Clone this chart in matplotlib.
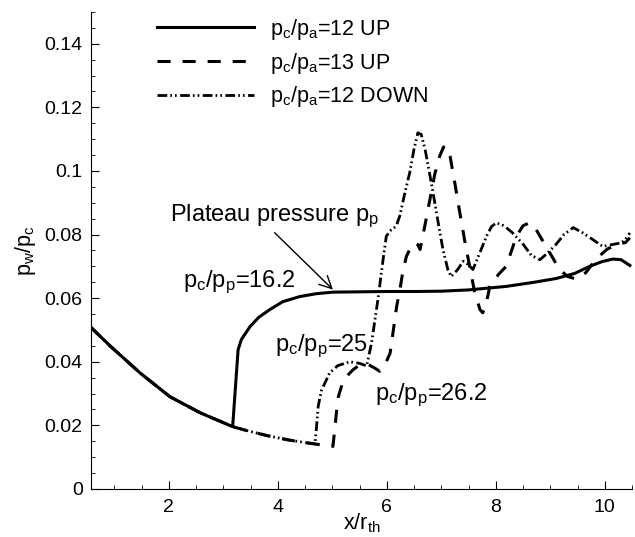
import numpy as np
import matplotlib
matplotlib.use("Agg")
import matplotlib.pyplot as plt
from matplotlib.ticker import MultipleLocator, FuncFormatter

plt.rcParams['font.family'] = 'Liberation Sans'
plt.rcParams['mathtext.fontset'] = 'custom'
plt.rcParams['mathtext.rm'] = 'Liberation Sans'
plt.rcParams['mathtext.it'] = 'Liberation Sans'

# common upstream part (all three curves)
x_common = [0.57, 0.92, 1.47, 2.02, 2.57, 3.17]
y_common = [0.0508, 0.045, 0.0365, 0.029, 0.024, 0.0196]

# pc/pa = 12 UP
x_up12 = [3.27, 3.33, 3.49, 3.65, 3.85, 4.09, 4.4, 4.7, 5.01, 5.5, 6.0, 6.5, 7.0,
          7.5, 8.19, 8.7, 9.11, 9.45, 9.72, 9.95, 10.15, 10.3, 10.46]
y_up12 = [0.0438, 0.047, 0.0511, 0.054, 0.0564, 0.0589, 0.0605, 0.0614, 0.0619, 0.062,
          0.0621, 0.0621, 0.0622, 0.0626, 0.0637, 0.065, 0.0662, 0.0678, 0.070, 0.0715,
          0.0723, 0.0721, 0.0703]

# pc/pa = 13 UP
x_up13 = [3.4, 3.8, 4.2, 4.5, 4.7, 4.85, 5.01, 5.05, 5.08, 5.11, 5.18, 5.26, 5.38, 5.5,
          5.65, 5.78, 5.87, 5.95, 6.06, 6.12, 6.18, 6.24, 6.3, 6.36, 6.44, 6.51, 6.57,
          6.61, 6.7, 6.79, 6.88, 6.97, 7.04, 7.09, 7.16, 7.25, 7.34, 7.43, 7.52, 7.61,
          7.71, 7.76, 7.82, 7.89, 8.05, 8.19, 8.28, 8.38, 8.5, 8.62, 8.72, 8.81, 8.99,
          9.17, 9.32, 9.48, 9.65, 9.85, 10.05, 10.25, 10.38, 10.46]
y_up13 = [0.0185, 0.0168, 0.0154, 0.0146, 0.0141, 0.0137, 0.0134, 0.0196, 0.025, 0.029,
          0.033, 0.0354, 0.0375, 0.039, 0.0392, 0.038, 0.037, 0.0385, 0.0427, 0.050,
          0.0574, 0.0627, 0.069, 0.0732, 0.076, 0.0774, 0.0768, 0.0753, 0.083, 0.091,
          0.099, 0.1047, 0.1075, 0.1078, 0.1047, 0.096, 0.0868, 0.078, 0.070, 0.062,
          0.0564, 0.0554, 0.058, 0.0637, 0.0675, 0.070, 0.0745, 0.0795, 0.0828, 0.0837,
          0.0822, 0.0795, 0.0743, 0.069, 0.0668, 0.066, 0.068, 0.0725, 0.0755, 0.077,
          0.0775, 0.079]

# pc/pa = 12 DOWN
x_down12 = [3.4, 3.8, 4.2, 4.5, 4.68, 4.71, 4.74, 4.8, 4.95, 5.1, 5.32, 5.5, 5.63, 5.72,
            5.84, 5.93, 5.99, 6.08, 6.17, 6.24, 6.33, 6.42, 6.5, 6.57, 6.63, 6.7, 6.84,
            6.94, 7.03, 7.12, 7.18, 7.3, 7.4, 7.5, 7.58, 7.7, 7.83, 7.92, 8.01, 8.15,
            8.31, 8.5, 8.65, 8.81, 8.95, 9.1, 9.25, 9.42, 9.6, 9.8, 9.96, 10.15, 10.3,
            10.38, 10.46]
y_down12 = [0.0185, 0.0168, 0.0154, 0.0146, 0.0142, 0.0196, 0.026, 0.031, 0.0365, 0.0388,
            0.040, 0.0395, 0.0387, 0.046, 0.060, 0.072, 0.0795, 0.0815, 0.0826, 0.086,
            0.093, 0.0995, 0.107, 0.112, 0.1115, 0.107, 0.094, 0.084, 0.0753, 0.069,
            0.0668, 0.069, 0.0716, 0.0705, 0.069, 0.074, 0.0795, 0.0825, 0.0837, 0.0828,
            0.0805, 0.077, 0.0735, 0.0721, 0.0742, 0.0768, 0.080, 0.0822, 0.0805, 0.0782,
            0.0763, 0.0769, 0.0774, 0.0785, 0.0805]

labels = [r'$\mathregular{p_c/p_a}$=12 UP', r'$\mathregular{p_c/p_a}$=13 UP',
          r'$\mathregular{p_c/p_a}$=12 DOWN']

fig = plt.figure(figsize=(6.35, 5.37), dpi=100)
ax = fig.add_axes([0.1433, 0.0894, 0.852, 0.8883])

ax.plot(x_common + x_up13, y_common + y_up13, color='black', lw=2.2,
        dashes=(4.3, 3.9), label=labels[1])
ax.plot(x_common + x_down12, y_common + y_down12, color='black', lw=2.0,
        dashes=(3.5, 1.1, 0.6, 1.1, 0.6, 1.25), label=labels[2])
ax.plot(x_common + x_up12, y_common + y_up12, color='black', lw=2.2, label=labels[0])

handles, labs = ax.get_legend_handles_labels()
order = [2, 0, 1]
ax.legend([handles[i] for i in order], [labs[i] for i in order], loc='upper left',
          bbox_to_anchor=(157 / 635, 1 - 17 / 537), bbox_transform=fig.transFigure,
          frameon=False, fontsize=15.5, handlelength=4.5, handletextpad=0.75,
          borderpad=0, borderaxespad=0, labelspacing=0.4)

ax.set_xlim(0.57, 10.5)
ax.set_ylim(0, 0.15)
ax.spines['top'].set_visible(False)
ax.spines['right'].set_visible(False)
ax.xaxis.set_major_locator(MultipleLocator(2))
ax.xaxis.set_minor_locator(MultipleLocator(0.5))
ax.yaxis.set_major_locator(MultipleLocator(0.02))
ax.yaxis.set_minor_locator(MultipleLocator(0.005))
ax.yaxis.set_major_formatter(FuncFormatter(lambda v, p: '%g' % round(v, 4)))
ax.tick_params(which='both', direction='in', labelsize=14)
ax.tick_params(axis='x', which='major', length=6, pad=7)
ax.tick_params(axis='y', which='major', length=6, pad=6)
ax.tick_params(which='minor', length=3)

ax.set_xlabel(r'$\mathregular{x/r_{th}}$', fontsize=15.5, labelpad=-3)
ax.set_ylabel(r'$\mathregular{p_w/p_c}$', fontsize=15.5, labelpad=5)

ax.text(2.02, 0.0857, r'Plateau pressure $\mathregular{p_p}$', fontsize=17, va='center')
ax.annotate('', xy=(5.01, 0.0627), xytext=(3.94, 0.0806),
            arrowprops=dict(arrowstyle='->', color='black', lw=1, shrinkA=0,
                            shrinkB=0, mutation_scale=22))
ax.text(2.26, 0.0649, r'$\mathregular{p_c/p_p}$=16.2', fontsize=17, va='center')
ax.text(3.94, 0.0448, r'$\mathregular{p_c/p_p}$=25', fontsize=17, va='center')
ax.text(5.78, 0.0296, r'$\mathregular{p_c/p_p}$=26.2', fontsize=17, va='center')

fig.savefig('out.png', dpi=100)
